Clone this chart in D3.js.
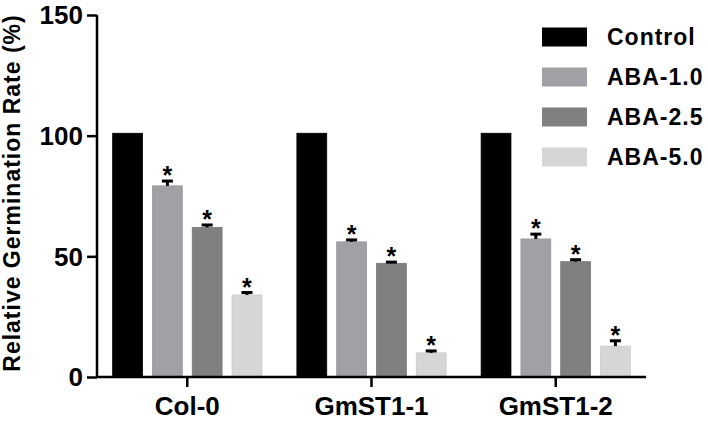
<!DOCTYPE html>
<html>
<head>
<meta charset="utf-8">
<script src="https://cdn.jsdelivr.net/npm/d3@7"></script>
<style>
  body { margin: 0; background: #fff; }
  svg { display: block; font-family: "Liberation Sans", Arial, sans-serif; }
</style>
</head>
<body>
<svg width="708" height="422"></svg>
<script>
// --- data ---
const lines = ["Col-0", "GmST1-1", "GmST1-2"];
const treatments = ["Control", "ABA-1.0", "ABA-2.5", "ABA-5.0"];
const means = [
    [101, 79.2, 62, 34],
    [101, 56, 47.1, 10],
    [101, 57.2, 47.8, 12.8]
];
const errs = [
    [0, 2, 1, 1],
    [0, 0.8, 0.5, 0.8],
    [0, 2, 0.8, 2.2]
];
const starred = [false, true, true, true];
const colors = ["#000000", "#a1a0a4", "#808080", "#d6d6d6"];
const yTicks = [0, 50, 100, 150];

const svg = d3.select("svg");
const margin = {left: 97, right: 62, top: 15, bottom: 45};
const width = +svg.attr("width");
const height = +svg.attr("height");

const y = d3.scaleLinear().domain([0, 150]).range([height - margin.bottom, margin.top]);
const x0 = d3.scaleBand().domain(lines).range([margin.left, width - margin.right]).paddingInner(0.19).paddingOuter(0.085);
const x1 = d3.scaleBand().domain(treatments).range([0, x0.bandwidth()]).paddingInner(0.25);

// bars
const groups = svg.append("g").selectAll("g")
    .data(lines)
    .enter().append("g")
    .attr("transform", d => `translate(${x0(d)},0)`);

const rows = groups.selectAll("g")
    .data((d, i) => treatments.map((t, j) => ({t, j, v: means[i][j], e: errs[i][j]})))
    .enter().append("g");

rows.append("rect")
    .attr("x", d => x1(d.t))
    .attr("y", d => y(d.v))
    .attr("width", x1.bandwidth())
    .attr("height", d => y(0) - y(d.v))
    .attr("fill", d => colors[d.j])
    .attr("stroke", d => d.j === 0 ? "#000" : d3.color(colors[d.j]).darker(0.15))
    .attr("stroke-width", 0.8);

// error bars (upper half only, like the figure)
const eb = rows.filter(d => d.e > 0);
eb.append("line")
    .attr("x1", d => x1(d.t) + x1.bandwidth() / 2)
    .attr("x2", d => x1(d.t) + x1.bandwidth() / 2)
    .attr("y1", d => y(d.v))
    .attr("y2", d => y(d.v + d.e))
    .attr("stroke", "#000").attr("stroke-width", 3);
eb.append("line")
    .attr("x1", d => x1(d.t) + x1.bandwidth() / 2 - 5.5)
    .attr("x2", d => x1(d.t) + x1.bandwidth() / 2 + 5.5)
    .attr("y1", d => y(d.v + d.e))
    .attr("y2", d => y(d.v + d.e))
    .attr("stroke", "#000").attr("stroke-width", 3);

// significance stars
rows.filter(d => starred[d.j]).append("text")
    .attr("x", d => x1(d.t) + x1.bandwidth() / 2)
    .attr("y", d => y(d.v + d.e) + 3)
    .attr("text-anchor", "middle")
    .attr("font-size", 25)
    .attr("font-weight", "bold")
    .text("*");

// axes
const yAxis = svg.append("g")
    .attr("transform", `translate(${margin.left},0)`)
    .call(d3.axisLeft(y).tickValues(yTicks).tickSize(10).tickPadding(4));
const xAxis = svg.append("g")
    .attr("transform", `translate(0,${y(0)})`)
    .call(d3.axisBottom(x0).tickSize(10).tickPadding(10));

[yAxis, xAxis].forEach(a => {
    a.select(".domain").attr("stroke", "#000").attr("stroke-width", 2.5);
    a.selectAll(".tick line").attr("stroke", "#000").attr("stroke-width", 2.5);
    a.selectAll("text").attr("fill", "#000").attr("font-weight", "bold")
        .attr("font-family", "Liberation Sans, Arial, sans-serif");
});
yAxis.select(".domain").attr("d", `M-0,${y(150)}V${y(0)}`);
xAxis.select(".domain").attr("d", `M${margin.left},0H${width - margin.right}`);
yAxis.selectAll("text").attr("font-size", 26).attr("dy", "0.34em");
xAxis.selectAll("text").attr("font-size", 26);

// y label
svg.append("text")
    .attr("transform", `translate(20,193) rotate(-90)`)
    .attr("text-anchor", "middle")
    .attr("font-size", 23)
    .attr("font-weight", "bold")
    .attr("letter-spacing", 1)
    .text("Relative Germination Rate (%)");

// legend
const legend = svg.append("g").selectAll("g")
    .data(treatments)
    .enter().append("g")
    .attr("transform", (d, i) => `translate(542,${37 + i * 40})`);
legend.append("rect")
    .attr("x", 0).attr("y", -9.5)
    .attr("width", 45).attr("height", 19)
    .attr("fill", (d, i) => colors[i]);
legend.append("text")
    .attr("x", 65).attr("y", 0)
    .attr("dy", "0.36em")
    .attr("font-size", 23)
    .attr("font-weight", "bold")
    .attr("letter-spacing", 1)
    .text(d => d);
</script>
</body>
</html>
